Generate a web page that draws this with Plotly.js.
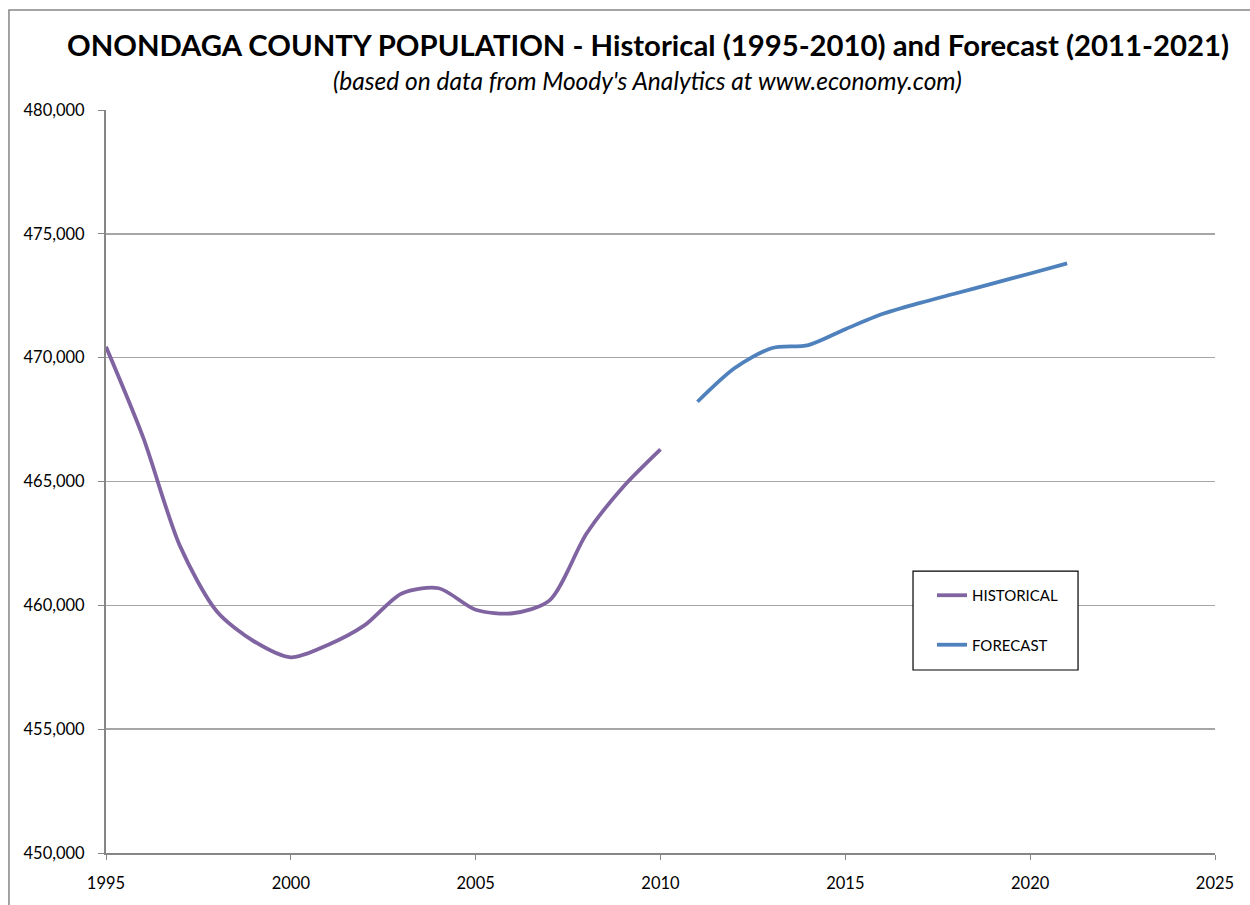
<!DOCTYPE html>
<html>
<head>
<meta charset="utf-8">
<script src="https://cdn.plot.ly/plotly-3.0.1.min.js"></script>
<style>html,body{margin:0;padding:0;background:#fff;}#chart{width:1250px;height:905px;}</style>
</head>
<body>
<div id="chart"></div>
<script>
const histYears = [1995,1996,1997,1998,1999,2000,2001,2002,2003,2004,2005,2006,2007,2008,2009,2010];
const histPop = [470440,466800,462400,459750,458550,457900,458400,459200,460480,460690,459820,459680,460200,462900,464800,466300];
const foreYears = [2011,2012,2013,2014,2015,2016,2017,2018,2019,2020,2021];
const forePop = [468220,469570,470380,470510,471150,471760,472200,472600,473000,473400,473810];
const xTicks = [1995,2000,2005,2010,2015,2020,2025];
const yTicks = [450000,455000,460000,465000,470000,475000,480000];
const yTickText = yTicks.map(v => v.toLocaleString('en-US'));

const FONT = "Lato, 'Open Sans', sans-serif";

const traces = [
  {x: histYears, y: histPop, name: 'HISTORICAL', mode: 'lines', type: 'scatter',
   line: {color: '#8064A2', width: 3.8, shape: 'spline', smoothing: 0.8}, legendgroup: 'a'},
  {x: foreYears, y: forePop, name: 'FORECAST', mode: 'lines', type: 'scatter',
   line: {color: '#4F81BD', width: 3.8, shape: 'spline', smoothing: 0.8}, legendgroup: 'b'}
];

const layout = {
  width: 1250, height: 905,
  margin: {l: 106, r: 35, t: 110, b: 52},
  paper_bgcolor: '#fff', plot_bgcolor: '#fff',
  font: {family: FONT, size: 15, color: '#000'},
  showlegend: true,
  legend: {x: 0.7448, y: 0.3688, xanchor: 'left', yanchor: 'top',
    borderwidth: 0, bgcolor: 'rgba(255,255,255,0)',
    font: {family: FONT, size: 15, color: '#000'},
    traceorder: 'grouped', tracegroupgap: 27, entrywidth: 120},
  xaxis: {range: [1995, 2025], tickvals: xTicks, ticktext: xTicks.map(String),
    showgrid: false, zeroline: false, showline: true, linecolor: '#868686', linewidth: 2,
    ticks: 'outside', ticklen: 5, tickcolor: '#868686', tickwidth: 1, fixedrange: true,
    ticklabelstandoff: 9, tickfont: {family: FONT, size: 16.5}},
  yaxis: {range: [450000, 480000], tickvals: yTicks, ticktext: yTickText,
    showgrid: true, gridcolor: '#A6A6A6', gridwidth: 1.5, zeroline: false,
    showline: true, linecolor: '#868686', linewidth: 2,
    ticks: 'outside', ticklen: 6, tickcolor: '#868686', tickwidth: 1, ticklabelstandoff: 10,
    tickfont: {family: FONT, size: 16.5}},
  annotations: [
    {text: '<b>ONONDAGA COUNTY POPULATION - Historical (1995-2010) and Forecast (2011-2021)</b>',
     xref: 'paper', yref: 'paper', x: 0.4884, y: 1.0, yshift: 66, xanchor: 'center', yanchor: 'middle',
     showarrow: false, font: {family: FONT, size: 29.3, color: '#000'}},
    {text: "<i>(based on data from Moody's Analytics at www.economy.com)</i>",
     xref: 'paper', yref: 'paper', x: 0.4884, y: 1.0, yshift: 30, xanchor: 'center', yanchor: 'middle',
     showarrow: false, font: {family: FONT, size: 24.5, color: '#000'}}
  ],
  shapes: [
    {type: 'rect', xref: 'paper', yref: 'paper', x0: -0.0875, x1: 1.2, y0: -0.2, y1: 1.1346,
     line: {color: '#868686', width: 1.5}, fillcolor: 'rgba(0,0,0,0)', layer: 'below'},
    {type: 'rect', xref: 'paper', yref: 'paper', x0: 0.7277, x1: 0.8765, y0: 0.2463, y1: 0.3795,
     line: {color: '#000', width: 1.2}, fillcolor: '#fff', layer: 'above'}
  ]
};

Plotly.newPlot('chart', traces, layout, {displayModeBar: false, staticPlot: true});
</script>
</body>
</html>
